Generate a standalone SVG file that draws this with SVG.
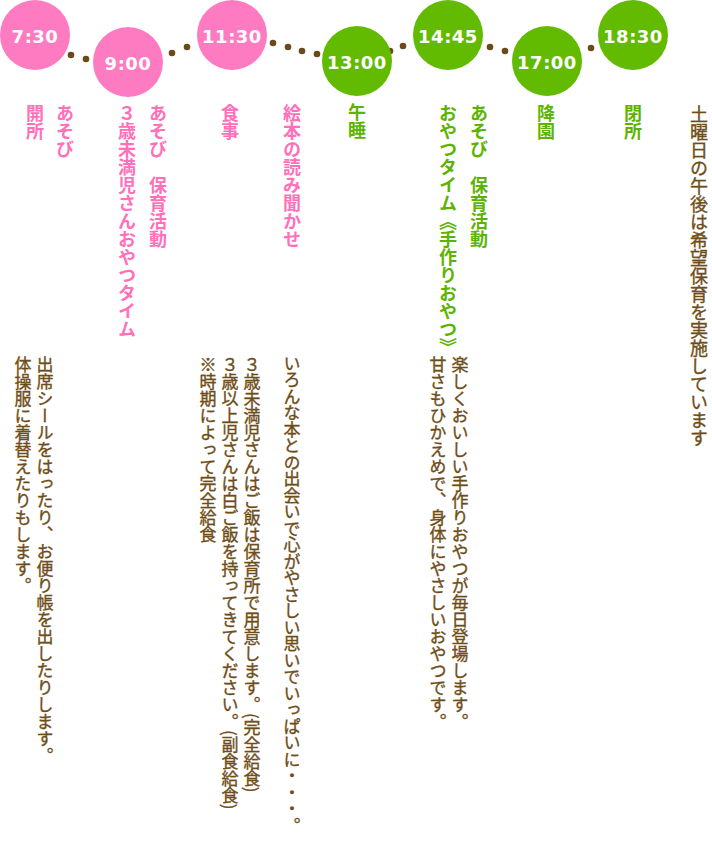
<svg xmlns="http://www.w3.org/2000/svg" width="712" height="841" viewBox="0 0 712 841">
<style>
.pk{fill:#ff7bc1}
.gr{fill:#62bb00}
.tm{fill:#fff;font-family:"DejaVu Sans",sans-serif;font-weight:bold;font-size:18px;letter-spacing:0.5px;text-anchor:middle}
.v{writing-mode:vertical-rl;font-family:"Noto Sans CJK JP",sans-serif}
.hp{fill:#ff6fba;font-weight:bold;font-size:18px}
.hg{fill:#5cb400;font-weight:bold;font-size:18px}
.br{fill:#6e4d17;stroke:#6e4d17;stroke-width:0.35px;font-size:17px}
.br18{fill:#6e4d17;stroke:#6e4d17;stroke-width:0.35px;font-size:18px}
.tight{letter-spacing:-0.5px}
.dot{fill:#6b4a1a}
</style>
<rect width="712" height="841" fill="#fff"/>
<g id="connectors">
<circle class="dot" cx="71" cy="55" r="3.3"/>
<circle class="dot" cx="86" cy="59" r="3.3"/>
<circle class="dot" cx="172" cy="53" r="3.3"/>
<circle class="dot" cx="187" cy="47" r="3.3"/>
<circle class="dot" cx="273" cy="43" r="3.3"/>
<circle class="dot" cx="288" cy="47" r="3.3"/>
<circle class="dot" cx="302" cy="51" r="3.3"/>
<circle class="dot" cx="317" cy="54" r="3.3"/>
<circle class="dot" cx="390" cy="51" r="3.3"/>
<circle class="dot" cx="403" cy="46" r="3.3"/>
<circle class="dot" cx="490" cy="47" r="3.3"/>
<circle class="dot" cx="505" cy="51" r="3.3"/>
<circle class="dot" cx="591" cy="48" r="3.3"/>
</g>
<g id="n0730"><circle class="pk" cx="35" cy="35" r="35"/><text class="tm" x="35" y="43">7:30</text></g>
<g id="n0900"><circle class="pk" cx="128" cy="62" r="35"/><text class="tm" x="128" y="70">9:00</text></g>
<g id="n1130"><circle class="pk" cx="232" cy="35" r="35"/><text class="tm" x="232" y="43">11:30</text></g>
<g id="n1300"><circle class="gr" cx="357" cy="61" r="35"/><text class="tm" x="357" y="69">13:00</text></g>
<g id="n1445"><circle class="gr" cx="448" cy="35" r="35"/><text class="tm" x="448" y="43">14:45</text></g>
<g id="n1700"><circle class="gr" cx="547" cy="61" r="35"/><text class="tm" x="547" y="69">17:00</text></g>
<g id="n1830"><circle class="gr" cx="633" cy="35" r="35"/><text class="tm" x="633" y="43">18:30</text></g>

<g id="note"><text class="v br18" x="699" y="105">土曜日の午後は希望保育を実施しています</text></g>

<g id="t1830"><text class="v hg" x="633" y="104">閉所</text></g>
<g id="t1700"><text class="v hg" x="546" y="104">降園</text></g>
<g id="t1445">
<text class="v hg" x="479" y="104">あそび　保育活動</text>
<text class="v hg" x="448" y="104">おやつタイム《手作りおやつ》</text>
<text class="v br" x="460" y="356">楽しくおいしい手作りおやつが毎日登場します。</text>
<text class="v br" x="438" y="356">甘さもひかえめで、身体にやさしいおやつです。</text>
</g>
<g id="t1300"><text class="v hg" x="357" y="103">午睡</text></g>
<g id="tehon">
<text class="v hp" x="292" y="104">絵本の読み聞かせ</text>
<text class="v br tight" x="292" y="355">いろんな本との出会いで心がやさしい思いでいっぱいに・・・。</text>
</g>
<g id="t1130">
<text class="v hp" x="230" y="104">食事</text>
<text class="v br" x="252" y="356">３歳未満児さんはご飯は保育所で用意します。(完全給食)</text>
<text class="v br" x="230" y="356">３歳以上児さんは白ご飯を持ってきてください。(副食給食)</text>
<text class="v br" x="208" y="356">※時期によって完全給食</text>
</g>
<g id="t0900">
<text class="v hp" x="158" y="104">あそび　保育活動</text>
<text class="v hp" x="127" y="104">３歳未満児さんおやつタイム</text>
</g>
<g id="t0730">
<text class="v hp" x="65" y="104">あそび</text>
<text class="v hp" x="35" y="104">開所</text>
<text class="v br" x="45" y="356">出席シールをはったり、お便り帳を出したりします。</text>
<text class="v br" x="23" y="356">体操服に着替えたりもします。</text>
</g>
</svg>
